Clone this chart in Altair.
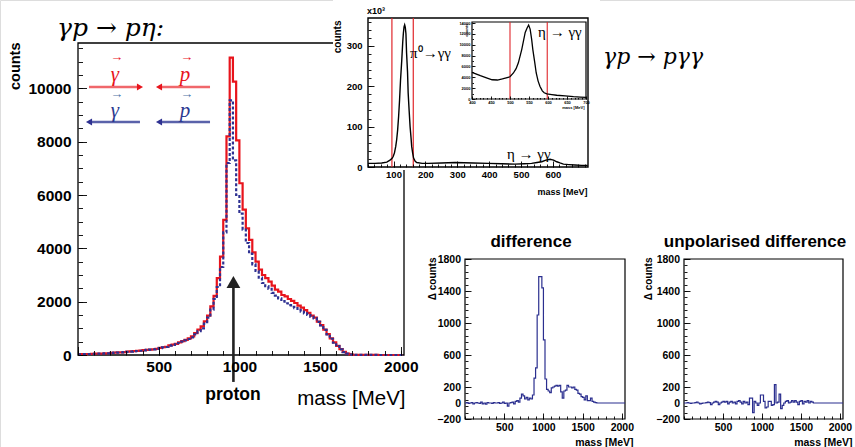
import altair as alt
import pandas as pd

W, H = 855, 447
FONT = "Liberation Sans"
SERIF = "Liberation Serif"
RED = "#E8141C"
BLUE = "#2E3192"
DBLUE = "#2B2F8F"

# ---------------- data ----------------
bin_start = list(range(0, 2000, 20))  # 20 MeV bins
red_counts = [30, 33, 36, 38, 40, 48, 52, 56, 60, 65,
              80, 90, 95, 100, 110, 125, 135, 145, 155, 165,
              180, 195, 205, 215, 230, 270, 290, 310, 360, 390,
              420, 470, 520, 570, 620, 700, 820, 950, 1070, 1260,
              1480, 1820, 2220, 2880, 3690, 5070, 8200, 11150, 10250, 8050,
              6440, 5450, 4750, 4320, 3850, 3500, 3200, 3000, 2880, 2750,
              2600, 2450, 2380, 2250, 2200, 2100, 2030, 1950, 1850, 1780,
              1680, 1580, 1480, 1400, 1250, 1120, 950, 780, 620, 470,
              340, 220, 120, 55, 20, 8, 4, 2, 2, 1,
              1, 1, 1, 0, 0, 0, 0, 0, 0, 0]
blue_counts = [28, 32, 35, 37, 40, 46, 50, 55, 58, 63,
               78, 88, 92, 98, 108, 120, 130, 140, 150, 160,
               175, 190, 200, 210, 225, 260, 285, 300, 350, 375,
               400, 450, 500, 550, 600, 660, 770, 890, 1000, 1180,
               1400, 1700, 2100, 2550, 3300, 4600, 7200, 9550, 7300, 6000,
               5300, 4700, 4200, 3800, 3400, 3150, 2900, 2700, 2580, 2480,
               2330, 2230, 2120, 2020, 1940, 1870, 1810, 1760, 1690, 1630,
               1560, 1500, 1430, 1370, 1240, 1110, 940, 770, 610, 460,
               330, 210, 110, 50, 18, 7, 3, 2, 2, 1,
               1, 1, 1, 0, 0, 0, 0, 0, 0, 0]
diff_counts = [0, 5, -5, 0, 5, -10, 0, 5, 0, -5,
               10, -10, 0, -15, 5, 0, 0, -5, 5, 0,
               0, 5, -5, 0, 10, -5, 0, -40, 0, 5,
               10, -10, 20, 30, 10, 60, 110, 90, 50, 70,
               40, 60, 50, 100, 310, 440, 1100, 1580, 1580, 1440,
               790, 300, 170, 150, 130, 190, 200, 210, 220, 210,
               220, 140, 60, 150, 160, 220, 200, 200, 190, 200,
               170, 160, 120, 110, 80, 70, 40, 90, 30, 30,
               60, 20, 10, 5, 0, 0, 0, 0, 0, 0,
               0, 0, 0, 0, 0, 0, 0, 0, 0, 0]
unpol_counts = [0, 0, 5, 0, -5, 0, 0, 5, 10, 0,
                -10, -5, 0, 0, 5, 10, 5, -20, 0, 10,
                20, 10, -20, 0, 10, 20, 10, 20, -10, 10,
                20, 0, 10, -10, 20, 30, 10, -10, 20, 0,
                10, -20, 60, 60, -120, 20, 0, -30, 0, 100,
                100, 20, -60, -50, 20, 20, -30, -20, 230, 0,
                10, 110, -70, -30, 0, 20, 30, 0, 10, 30,
                10, 30, 10, -20, 20, 30, -10, 20, 10, 30,
                0, 20, 10, 0, 0, 0, 0, 0, 0, 0,
                0, 0, 0, 0, 0, 0, 0, 0, 0, 0]

inset_mass = [20, 42, 63, 79, 89, 95, 99, 103, 107, 110, 113, 116, 119, 122, 126, 129,
              131, 133, 135, 137, 139, 141, 144, 146, 149, 152, 155, 157, 160, 163, 168,
              173, 190, 209, 250, 293, 350, 397, 440, 481, 510, 533, 550, 565, 578, 591,
              602, 612, 622, 633, 650, 669, 690, 709]
inset_counts_k = [9, 9, 10, 12, 17, 21, 26, 35, 51, 68, 92, 125, 166, 215, 266, 310,
                  332, 347, 352, 346, 330, 282, 235, 183, 140, 100, 72, 51, 35, 22, 14,
                  11, 9, 9, 10, 11, 10, 9, 8, 7, 8, 9, 11, 13, 17, 19,
                  17, 13, 10, 7, 6, 5, 4, 4]
inset_cuts = [95, 162]

inner_mass = [400, 410, 422, 440, 453, 467, 480, 490, 500, 509, 516, 522, 531, 540, 545,
              549, 553, 557, 560, 565, 569, 574, 579, 585, 590, 597, 610, 623, 645, 667,
              685, 700]
inner_counts = [4920, 4650, 4300, 3870, 3550, 3500, 3700, 3900, 4100, 4800, 5600, 6670,
                9160, 12280, 13100, 13640, 12900, 11000, 9160, 6800, 4800, 3300, 2300,
                1500, 1150, 930, 800, 690, 560, 430, 360, 300]
inner_cuts = [500, 598]

main_xlabels = [500, 1000, 1500, 2000]
main_ylabels = [0, 2000, 4000, 6000, 8000, 10000]
inset_xlabels = [100, 200, 300, 400, 500, 600]
inset_ylabels = [0, 100, 200, 300]
inner_xlabels = [400, 450, 500, 550, 600, 650, 700]
inner_ylabels = [0, 2000, 4000, 6000, 8000, 10000, 12000, 14000]
diff_xlabels = [500, 1000, 1500, 2000]
diff_ylabels = [-200, 0, 200, 600, 1000, 1400, 1800]

# ---------------- panels (domain / pixel range) ----------------
MAIN = dict(xd=[0, 2020], xr=[78, 404], yd=[0, 11700], yr=[355, 43])
INSET = dict(xd=[20, 710], xr=[368, 588], yd=[0, 369], yr=[167, 18])
INNER = dict(xd=[400, 700], xr=[472, 586], yd=[0, 14200], yr=[99, 22])
DIFF = dict(xd=[0, 2040], xr=[465, 625], yd=[-200, 1800], yr=[419, 259])
UNPOL = dict(xd=[0, 2040], xr=[684, 843], yd=[-200, 1800], yr=[419, 259])


def sx(p):
    return alt.Scale(domain=p["xd"], range=p["xr"], nice=False, zero=False)


def sy(p):
    return alt.Scale(domain=p["yd"], range=p["yr"], nice=False, zero=False)


def box_df(p):
    return pd.DataFrame({"a": [p["xd"][0]], "b": [p["xd"][1]],
                         "c": [p["yd"][0]], "d": [p["yd"][1]]})


def label_axes(p, xv, yv, size, xpad, ypad, xtitle, ytitle, xt, yt, tsize,
               tweight="bold"):
    xa = alt.Axis(orient="bottom", offset=p["yr"][0] - H, values=xv, ticks=False,
                  domain=False, grid=False, labelFontSize=size, labelPadding=xpad,
                  labelFont=FONT, labelFontWeight="bold", labelColor="black",
                  labelFlush=False, labelOverlap=False, format="d", zindex=1,
                  title=xtitle, titleFont=FONT, titleFontSize=tsize[0],
                  titleFontWeight=tweight, titleColor="black", titleAlign="right",
                  titleBaseline="middle", titleAngle=0, titleX=xt[0], titleY=xt[1])
    ya = alt.Axis(orient="left", offset=-p["xr"][0], values=yv, ticks=False,
                  domain=False, grid=False, labelFontSize=size, labelPadding=ypad,
                  labelFont=FONT, labelFontWeight="bold", labelColor="black",
                  labelFlush=False, labelOverlap=False, format="d", zindex=1,
                  title=ytitle, titleFont=FONT, titleFontSize=tsize[1],
                  titleFontWeight="bold", titleColor="black", titleAlign="right",
                  titleBaseline="middle", titleAngle=270, titleX=yt[0], titleY=yt[1])
    return xa, ya


def frame(p, axes, fill=None, sw=1.0):
    xa, ya = axes
    if fill:
        mk = alt.Chart(box_df(p)).mark_rect(fill=fill, stroke="black", strokeWidth=sw)
    else:
        mk = alt.Chart(box_df(p)).mark_rect(fillOpacity=0, stroke="black", strokeWidth=sw)
    return mk.encode(x=alt.X("a:Q", scale=sx(p), axis=xa), x2="b:Q",
                     y=alt.Y("c:Q", scale=sy(p), axis=ya), y2="d:Q")


def tick_layer(p, xv, yv, size):
    xa = alt.Axis(orient="top", offset=-p["yr"][0], values=xv, tickSize=size,
                  labels=False, domain=False, grid=False, title=None, zindex=1,
                  tickColor="black", tickWidth=0.9)
    ya = alt.Axis(orient="right", offset=p["xr"][0] - W, values=yv, tickSize=size,
                  labels=False, domain=False, grid=False, title=None, zindex=1,
                  tickColor="black", tickWidth=0.9)
    return alt.Chart(box_df(p)).mark_rect(opacity=0).encode(
        x=alt.X("a:Q", scale=sx(p), axis=xa), x2="b:Q",
        y=alt.Y("c:Q", scale=sy(p), axis=ya), y2="d:Q")


def step_line(p, xs, ys, xend, color, width, dash=None):
    df = pd.DataFrame({"m": list(xs) + [xend], "v": list(ys) + [ys[-1]]})
    kw = dict(interpolate="step-after", color=color, strokeWidth=width)
    if dash:
        kw["strokeDash"] = dash
    return alt.Chart(df).mark_line(**kw).encode(
        x=alt.X("m:Q", scale=sx(p), axis=None),
        y=alt.Y("v:Q", scale=sy(p), axis=None))


def curve(p, xs, ys, color="black", width=1.4):
    df = pd.DataFrame({"m": xs, "v": ys})
    return alt.Chart(df).mark_line(color=color, strokeWidth=width).encode(
        x=alt.X("m:Q", scale=sx(p), axis=None),
        y=alt.Y("v:Q", scale=sy(p), axis=None))


def vlines(p, xs, color="#E0262B", width=1.2):
    df = pd.DataFrame({"m": xs, "y0": [p["yd"][0]] * len(xs), "y1": [p["yd"][1]] * len(xs)})
    return alt.Chart(df).mark_rule(color=color, strokeWidth=width).encode(
        x=alt.X("m:Q", scale=sx(p), axis=None),
        y=alt.Y("y0:Q", scale=sy(p), axis=None), y2="y1:Q")


def dtext(p, text, xv, yv, size, color="black", font=SERIF, style="normal",
          weight="normal", align="left"):
    df = pd.DataFrame({"m": [xv], "v": [yv], "t": [text]})
    return alt.Chart(df).mark_text(font=font, fontSize=size, fontStyle=style,
                                   fontWeight=weight, color=color, align=align,
                                   baseline="middle").encode(
        x=alt.X("m:Q", scale=sx(p), axis=None),
        y=alt.Y("v:Q", scale=sy(p), axis=None), text="t:N")


def ptext(text, x, y, size, font=FONT, weight="bold", style="normal",
          align="center", color="black"):
    df = pd.DataFrame({"t": [text]})
    return alt.Chart(df).mark_text(font=font, fontSize=size, fontWeight=weight,
                                   fontStyle=style, align=align, baseline="middle",
                                   color=color).encode(
        x=alt.value(x), y=alt.value(y), text="t:N")


def arrow(p, x0, x1, yv, line_color, head_color, head):
    df = pd.DataFrame({"a": [x0], "b": [x1], "v": [yv]})
    line = alt.Chart(df).mark_rule(color=line_color, strokeWidth=2.4).encode(
        x=alt.X("a:Q", scale=sx(p), axis=None), x2="b:Q",
        y=alt.Y("v:Q", scale=sy(p), axis=None))
    tip = x1 if head == "triangle-right" else x0
    hdf = pd.DataFrame({"a": [tip], "v": [yv]})
    hd = alt.Chart(hdf).mark_point(shape=head, filled=True, size=50, color=head_color,
                                   opacity=1).encode(
        x=alt.X("a:Q", scale=sx(p), axis=None),
        y=alt.Y("v:Q", scale=sy(p), axis=None))
    return [line, hd]


layers = []

# ---------------- main panel ----------------
layers.append(frame(MAIN, label_axes(MAIN, main_xlabels, main_ylabels, 15.5, 4, 7,
                                     "mass [MeV]", "counts", (405, 43), (-63, 42),
                                     (20.5, 14.5), tweight="normal"), sw=1.3))
layers.append(tick_layer(MAIN, list(range(0, 2001, 100)), list(range(0, 11501, 500)), 4.5))
layers.append(tick_layer(MAIN, [0, 500, 1000, 1500, 2000], main_ylabels, 8.5))
layers.append(step_line(MAIN, bin_start, red_counts, 2010, RED, 2.2))
layers.append(step_line(MAIN, bin_start, blue_counts, 2010, BLUE, 2.2, dash=[3, 2]))

# legend arrows / letters (main coordinates)
layers += arrow(MAIN, 68, 384, 10050, "#F0676B", RED, "triangle-right")
layers += arrow(MAIN, 502, 818, 10050, "#F0676B", RED, "triangle-left")
layers += arrow(MAIN, 68, 384, 8737, "#5A62AA", BLUE, "triangle-left")
layers += arrow(MAIN, 502, 818, 8737, "#5A62AA", BLUE, "triangle-left")
layers.append(dtext(MAIN, "γ", 229, 10500, 21, RED, style="italic", align="center"))
layers.append(dtext(MAIN, "p", 663, 10500, 21, RED, style="italic", align="center"))
layers.append(dtext(MAIN, "→", 240, 11175, 13, RED, align="center"))
layers.append(dtext(MAIN, "→", 674, 11175, 13, RED, align="center"))
layers.append(dtext(MAIN, "γ", 229, 9150, 21, "#2B3990", style="italic", align="center"))
layers.append(dtext(MAIN, "p", 663, 9150, 21, "#2B3990", style="italic", align="center"))
layers.append(dtext(MAIN, "→", 240, 9787, 13, "#4F74A8", align="center"))
layers.append(dtext(MAIN, "→", 674, 9787, 13, "#4F74A8", align="center"))

# proton arrow
pa = pd.DataFrame({"a": [963], "v0": [-1010], "v1": [2650]})
layers.append(alt.Chart(pa).mark_rule(color="#222222", strokeWidth=2.6).encode(
    x=alt.X("a:Q", scale=sx(MAIN), axis=None),
    y=alt.Y("v0:Q", scale=sy(MAIN), axis=None), y2="v1:Q"))
ph = pd.DataFrame({"a": [963], "v": [2740]})
layers.append(alt.Chart(ph).mark_point(shape="triangle-up", filled=True, size=190,
                                       color="#222222", opacity=1).encode(
    x=alt.X("a:Q", scale=sx(MAIN), axis=None),
    y=alt.Y("v:Q", scale=sy(MAIN), axis=None)))
layers.append(ptext("proton", 233, 395, 17.5))

# ---------------- top inset ----------------
layers.append(alt.Chart(pd.DataFrame({"k": [1]})).mark_rect(fill="white").encode(
    x=alt.value(333), x2=alt.value(600), y=alt.value(0), y2=alt.value(170)))
layers.append(frame(INSET, label_axes(INSET, inset_xlabels, inset_ylabels, 9.5, 2.5, 6,
                                      "mass [MeV]", "counts", (587, 24), (-31, 20),
                                      (9, 10)), fill="white", sw=1.4))
layers.append(tick_layer(INSET, list(range(20, 701, 20)), list(range(0, 361, 20)), 3))
layers.append(tick_layer(INSET, inset_xlabels, inset_ylabels, 6))
layers.append(vlines(INSET, inset_cuts))
layers.append(curve(INSET, inset_mass, inset_counts_k))
layers.append(dtext(INSET, "π⁰→γγ", 152, 282, 15))
layers.append(dtext(INSET, "η → γγ", 456, 32, 15))
layers.append(ptext("x10³", 367, 11, 9, align="left"))

# inner inset
layers.append(frame(INNER, label_axes(INNER, inner_xlabels, inner_ylabels, 4, 1, 2,
                                      "mass [MeV]", "counts", (584, 8), (-6, 23),
                                      (4, 4)), fill="white", sw=1.2))
layers.append(tick_layer(INNER, list(range(400, 701, 10)), list(range(0, 14001, 1000)), 1.5))
layers.append(tick_layer(INNER, inner_xlabels, inner_ylabels, 3))
layers.append(vlines(INNER, inner_cuts, width=1.1))
layers.append(curve(INNER, inner_mass, inner_counts, width=1.3))
layers.append(dtext(INNER, "η → γγ", 574, 12356, 15))

# ---------------- difference panels ----------------
for p, vals, tx, ty in [(DIFF, diff_counts, 633, -33), (UNPOL, unpol_counts, 852, -36)]:
    layers.append(frame(p, label_axes(p, diff_xlabels, diff_ylabels, 10.5, 3, 4.5,
                                      "mass [MeV]", "Δ counts", (tx, 23), (ty, 257),
                                      (10.5, 10)), sw=1.2))
    layers.append(tick_layer(p, list(range(0, 2001, 100)), list(range(-200, 1801, 80)), 3))
    layers.append(tick_layer(p, diff_xlabels, [-200, 200, 600, 1000, 1400, 1800], 6))
    layers.append(step_line(p, bin_start, vals, 2040, DBLUE, 1.2))

layers.append(ptext("difference", 531, 242, 17))
layers.append(ptext("unpolarised difference", 755, 242, 17))

# ---------------- reaction labels ----------------
layers.append(ptext("γp → pη:", 57, 28, 25, font="DejaVu Serif", weight="normal",
                    style="italic", align="left"))
layers.append(ptext("γp → pγγ", 603, 57, 22, font="DejaVu Serif", weight="normal",
                    style="italic", align="left"))

chart = alt.layer(*layers).resolve_scale(x="independent", y="independent").properties(
    width=W, height=H, padding=0, autosize=alt.AutoSizeParams(type="none")
).configure_view(stroke=None).configure(background="white")

chart.save("out.html", embed_options={"renderer": "svg", "actions": False})
